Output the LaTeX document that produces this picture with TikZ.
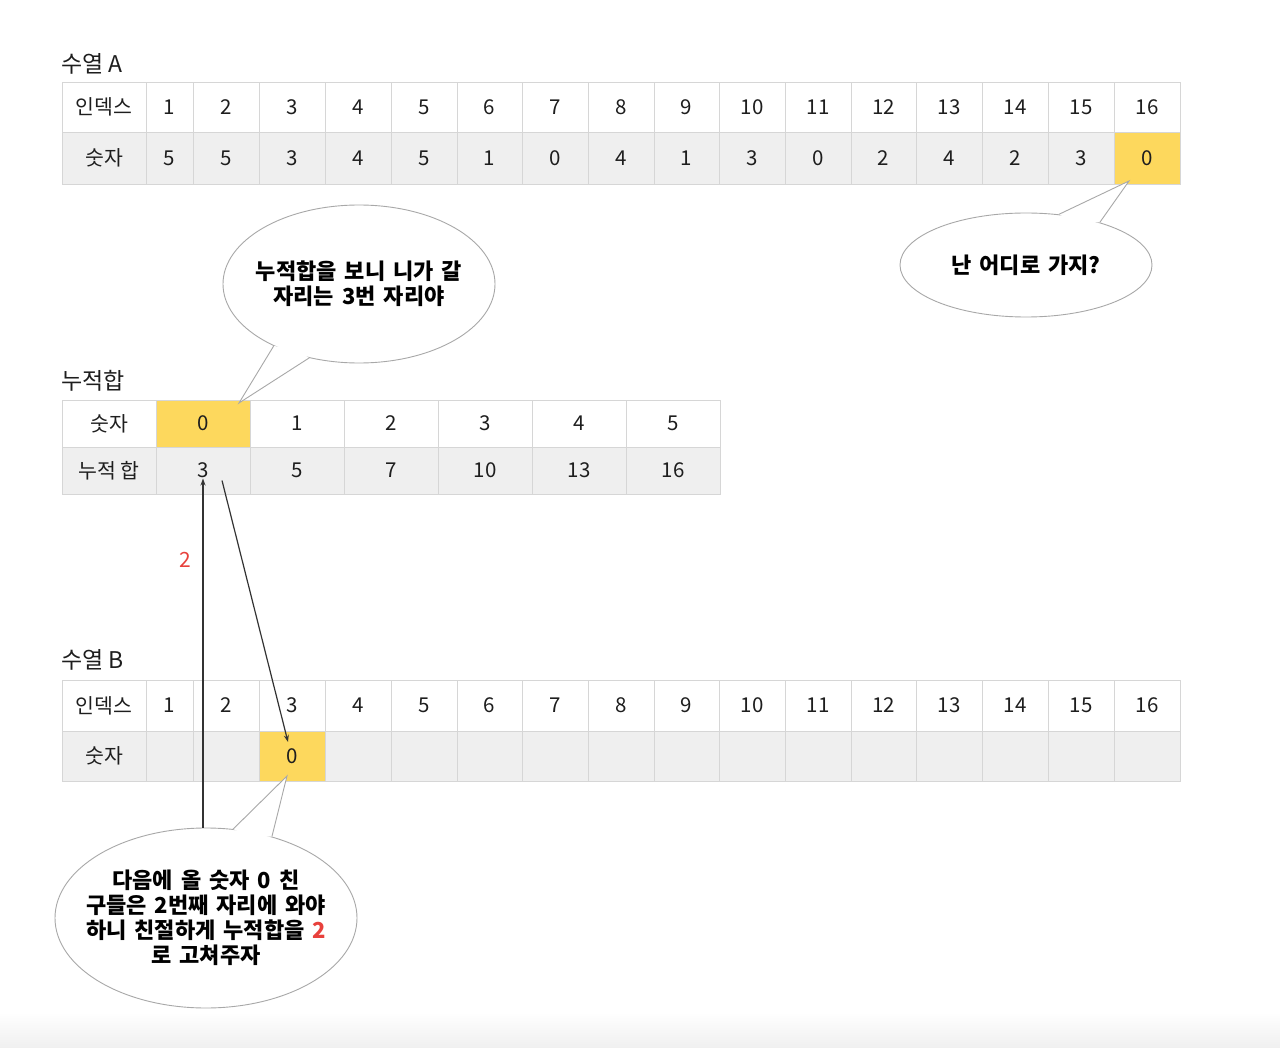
\documentclass[tikz,border=0pt]{standalone}
\usepackage{fontspec}
\setmainfont{Noto Sans CJK KR}
\usetikzlibrary{shapes.geometric,arrows.meta,calc}
\definecolor{gridc}{HTML}{D6D6D6}
\definecolor{rowg}{HTML}{EFEFEF}
\definecolor{hl}{HTML}{FDD85D}
\definecolor{txt}{HTML}{1E1E1E}
\definecolor{bub}{HTML}{A8A8A8}
\definecolor{redc}{HTML}{E8413C}
\newlength{\bubspace}
\setlength{\bubspace}{8pt}
\tikzset{
  cell/.style={draw=gridc, line width=0.8pt, inner sep=0pt, text=txt,
    font=\fontsize{20.5}{22}\selectfont},
  ttl/.style={anchor=west, inner sep=0pt, text=txt, font=\fontsize{23}{26}\selectfont},
  bubble/.style={ellipse, draw=bub, fill=white, line width=0.9pt, inner sep=0pt,
    align=center, text=black, font=\bfseries\fontsize{22}{25}\selectfont},
  bubtext/.style={bubble, draw=none, fill=none, execute at begin node={\spaceskip=\bubspace\relax}},
  bubline/.style={draw=bub, line width=0.9pt, line join=miter},
  arr/.style={draw=black!80, line width=1.2pt, -{Stealth[length=7pt,width=5pt]}}
}
\begin{document}
\begin{tikzpicture}[x=1pt,y=-1pt]
\useasboundingbox (0,0) rectangle (1280,1048);
\fill[white] (0,0) rectangle (1280,1048);
\shade[top color=white, bottom color=black!6] (0,1012) rectangle (1280,1048);

% titles
\node[ttl] (tA) at (61,64) {수열 A};
\node[ttl] (tC) at (61,381) {누적합};
\node[ttl] (tB) at (61,660) {수열 B};

% table A
\foreach \l/\r/\t [count=\i] in {62/146/인덱스,146/193/1,193/259/2,259/325/3,325/391/4,391/457/5,457/522/6,522/588/7,588/654/8,654/719/9,719/785/10,785/851/11,851/916/12,916/982/13,982/1048/14,1048/1114/15,1114/1180/16}
  \node[cell, fill=white, minimum width={(\r-\l)*1pt}, minimum height=50pt] (A1-\i) at ({(\l+\r)/2},107) {\t};
\foreach \l/\r/\t/\f [count=\i] in {62/146/숫자/rowg,146/193/5/rowg,193/259/5/rowg,259/325/3/rowg,325/391/4/rowg,391/457/5/rowg,457/522/1/rowg,522/588/0/rowg,588/654/4/rowg,654/719/1/rowg,719/785/3/rowg,785/851/0/rowg,851/916/2/rowg,916/982/4/rowg,982/1048/2/rowg,1048/1114/3/rowg,1114/1180/0/hl}
  \node[cell, fill=\f, minimum width={(\r-\l)*1pt}, minimum height=52pt] (A2-\i) at ({(\l+\r)/2},158) {\t};

% cumulative table
\foreach \l/\r/\t/\f [count=\i] in {62/156/숫자/white,156/250/0/hl,250/344/1/white,344/438/2/white,438/532/3/white,532/626/4/white,626/720/5/white}
  \node[cell, fill=\f, minimum width={(\r-\l)*1pt}, minimum height=47pt] (C1-\i) at ({(\l+\r)/2},423.5) {\t};
\foreach \l/\r/\t [count=\i] in {62/156/누적 합,156/250/3,250/344/5,344/438/7,438/532/10,532/626/13,626/720/16}
  \node[cell, fill=rowg, minimum width={(\r-\l)*1pt}, minimum height=47pt] (C2-\i) at ({(\l+\r)/2},470.5) {\t};

% table B
\foreach \l/\r/\t [count=\i] in {62/146/인덱스,146/193/1,193/259/2,259/325/3,325/391/4,391/457/5,457/522/6,522/588/7,588/654/8,654/719/9,719/785/10,785/851/11,851/916/12,916/982/13,982/1048/14,1048/1114/15,1114/1180/16}
  \node[cell, fill=white, minimum width={(\r-\l)*1pt}, minimum height=51pt] (B1-\i) at ({(\l+\r)/2},705.5) {\t};
\foreach \l/\r/\t/\f [count=\i] in {62/146/숫자/rowg,146/193/{}/rowg,193/259/{}/rowg,259/325/0/hl,325/391/{}/rowg,391/457/{}/rowg,457/522/{}/rowg,522/588/{}/rowg,588/654/{}/rowg,654/719/{}/rowg,719/785/{}/rowg,785/851/{}/rowg,851/916/{}/rowg,916/982/{}/rowg,982/1048/{}/rowg,1048/1114/{}/rowg,1114/1180/{}/rowg}
  \node[cell, fill=\f, minimum width={(\r-\l)*1pt}, minimum height=50pt] (B2-\i) at ({(\l+\r)/2},756) {\t};

% callout 1
\node[bubble, minimum width=252pt, minimum height=104pt] (c1) at (1026,265) {};
\coordinate (t1) at (1129,181);
\fill[white] (c1.57.5) -- (t1) -- (c1.30.2) -- ($(c1.44)!6pt!(c1.center)$) -- cycle;
\draw[bubline] (c1.57.5) -- (t1) -- (c1.30.2);
\node[bubtext] (c1t) at (c1.center) {난 어디로 가지?};

% callout 2
\node[bubble, minimum width=272pt, minimum height=158pt] (c2) at (359,284) {};
\coordinate (t2) at (239,403);
\fill[white] (c2.216.1) -- (t2) -- (c2.236.1) -- ($(c2.226)!6pt!(c2.center)$) -- cycle;
\draw[bubline] (c2.216.1) -- (t2) -- (c2.236.1);
\node[bubtext] (c2t) at (c2.center) {누적합을 보니 니가 갈\\자리는 3번 자리야};

% callout 3
\node[bubble, minimum width=302pt, minimum height=180pt] (c3) at (206,918) {};
\coordinate (t3) at (287,776);
\fill[white] (c3.73.7) -- (t3) -- (c3.51.1) -- ($(c3.62)!6pt!(c3.center)$) -- cycle;
\draw[bubline] (c3.73.7) -- (t3) -- (c3.51.1);
\node[bubtext] (c3t) at (c3.center) {다음에 올 숫자 0 친\\구들은 2번째 자리에 와야\\하니 친절하게 누적합을 {\color{redc}2}\\로 고쳐주자};

% arrows
\draw[arr] (C2-2.center |- c3.north) -- ([yshift=-8pt]C2-2.center);
\draw[arr] ([xshift=19pt,yshift=-10pt]C2-2.center) -- ([xshift=-4pt,yshift=14pt]B2-4.center);
\node[text=redc, font=\fontsize{21}{24}\selectfont, inner sep=0pt] (two) at (185,560) {2};
\end{tikzpicture}
\end{document}
